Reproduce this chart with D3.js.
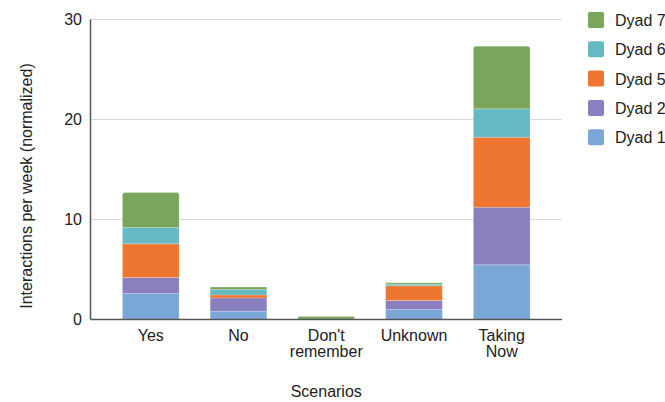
<!DOCTYPE html>
<html>
<head>
<meta charset="utf-8">
<title>Interactions per week</title>
<script src="https://d3js.org/d3.v7.min.js"></script>
<style>
  body { margin: 0; background: #fff; }
  text { font-family: "Liberation Sans", Arial, sans-serif; fill: #222; }
</style>
</head>
<body>
<script>
var categories = ["Yes", "No", "Don't\nremember", "Unknown", "Taking\nNow"];
var seriesNames = ["Dyad 1", "Dyad 2", "Dyad 5", "Dyad 6", "Dyad 7"];
var dyad1 = [2.6, 0.83, 0, 1.0, 5.47];
var dyad2 = [1.6, 1.33, 0, 0.9, 5.76];
var dyad5 = [3.37, 0.3, 0, 1.47, 7.0];
var dyad6 = [1.63, 0.53, 0.03, 0.16, 2.84];
var dyad7 = [3.5, 0.25, 0.27, 0.14, 6.26];
var yTicks = [0, 10, 20, 30];
var colors = ["#7ba7d7", "#8a7fbf", "#ef7631", "#65b9c4", "#7aa65c"];

var width = 665, height = 402;
var mLeft = 90.5, mRight = 562, mTop = 19.5, mBottom = 319.5;
var fontSize = "16px";

var allSeries = [dyad1, dyad2, dyad5, dyad6, dyad7];
var table = categories.map(function(c, i) {
  var row = { cat: c };
  seriesNames.forEach(function(s, j) { row[s] = allSeries[j][i]; });
  return row;
});

var stack = d3.stack().keys(seriesNames);
var layers = stack(table);

var x = d3.scaleBand().domain(categories).range([mLeft, mRight])
  .paddingInner(0.354).paddingOuter(0.364);
var y = d3.scaleLinear().domain([0, 30]).range([mBottom, mTop]);
var color = d3.scaleOrdinal().domain(seriesNames).range(colors);

var svg = d3.select("body").append("svg")
  .attr("width", width).attr("height", height);

// gridlines
svg.append("g").selectAll("line").data(yTicks.filter(function(t) { return t > 0; }))
  .enter().append("line")
  .attr("x1", mLeft).attr("x2", mRight)
  .attr("y1", function(d) { return y(d); }).attr("y2", function(d) { return y(d); })
  .attr("stroke", "#d9d9d9").attr("stroke-width", 1);

// which segment sits on top of each bar (gets the rounded corners)
var topIdx = categories.map(function(c, i) {
  var k = 0;
  allSeries.forEach(function(s, j) { if (s[i] > 0) k = j; });
  return k;
});

svg.append("g").selectAll("g").data(layers).enter().append("g")
  .attr("fill", function(d) { return color(d.key); })
  .each(function(layer, li) {
    d3.select(this).selectAll("path").data(layer).enter().append("path")
      .attr("d", function(d, i) {
        var x0 = x(categories[i]), w = x.bandwidth();
        var y0 = y(d[0]), y1 = y(d[1]);
        if (y0 - y1 <= 0) return null;
        var r = topIdx[i] === li ? Math.min(2.5, (y0 - y1) / 2) : 0;
        return "M" + x0 + "," + y0 + "V" + (y1 + r) +
          "Q" + x0 + "," + y1 + " " + (x0 + r) + "," + y1 +
          "H" + (x0 + w - r) +
          "Q" + (x0 + w) + "," + y1 + " " + (x0 + w) + "," + (y1 + r) +
          "V" + y0 + "Z";
      })
      .attr("stroke", "rgba(255,255,255,0.25)").attr("stroke-width", 0.8);
  });

// axis lines
svg.append("line").attr("x1", mLeft).attr("x2", mLeft).attr("y1", mTop).attr("y2", mBottom)
  .attr("stroke", "#555").attr("stroke-width", 1.5);
svg.append("line").attr("x1", mLeft).attr("x2", mRight).attr("y1", mBottom).attr("y2", mBottom)
  .attr("stroke", "#555").attr("stroke-width", 1.5);

var yAxis = d3.axisLeft(y).tickValues(yTicks).tickSize(0).tickPadding(8.5);
var gy = svg.append("g").attr("transform", "translate(" + mLeft + ",0)").call(yAxis);
gy.select(".domain").remove();
gy.selectAll("text").style("font-size", fontSize)
  .style("font-family", "'Liberation Sans', Arial, sans-serif").attr("fill", "#222");

var xAxis = d3.axisBottom(x).tickSize(0).tickFormat("");
var gx = svg.append("g").attr("transform", "translate(0," + mBottom + ")").call(xAxis);
gx.select(".domain").remove();
gx.selectAll(".tick").each(function(d) {
  var t = d3.select(this).append("text").attr("text-anchor", "middle")
    .style("font-size", fontSize).attr("fill", "#222");
  d.split("\n").forEach(function(line, i) {
    t.append("tspan").attr("x", 0).attr("y", 21.5 + i * 16).text(line);
  });
});

// axis titles
svg.append("text").attr("x", (mLeft + mRight) / 2).attr("y", 397)
  .attr("text-anchor", "middle").style("font-size", fontSize).text("Scenarios");
svg.append("text").attr("transform", "translate(32,186) rotate(-90)")
  .attr("text-anchor", "middle").style("font-size", fontSize)
  .text("Interactions per week (normalized)");

// legend
var legendKeys = seriesNames.slice().reverse();
var lg = svg.append("g").selectAll("g").data(legendKeys).enter().append("g")
  .attr("transform", function(d, i) { return "translate(588," + (12 + i * 29.3) + ")"; });
lg.append("rect").attr("width", 16).attr("height", 16).attr("rx", 2)
  .attr("fill", function(d) { return color(d); });
lg.append("text").attr("x", 27).attr("y", 14).style("font-size", fontSize)
  .text(function(d) { return d; });
</script>
</body>
</html>
